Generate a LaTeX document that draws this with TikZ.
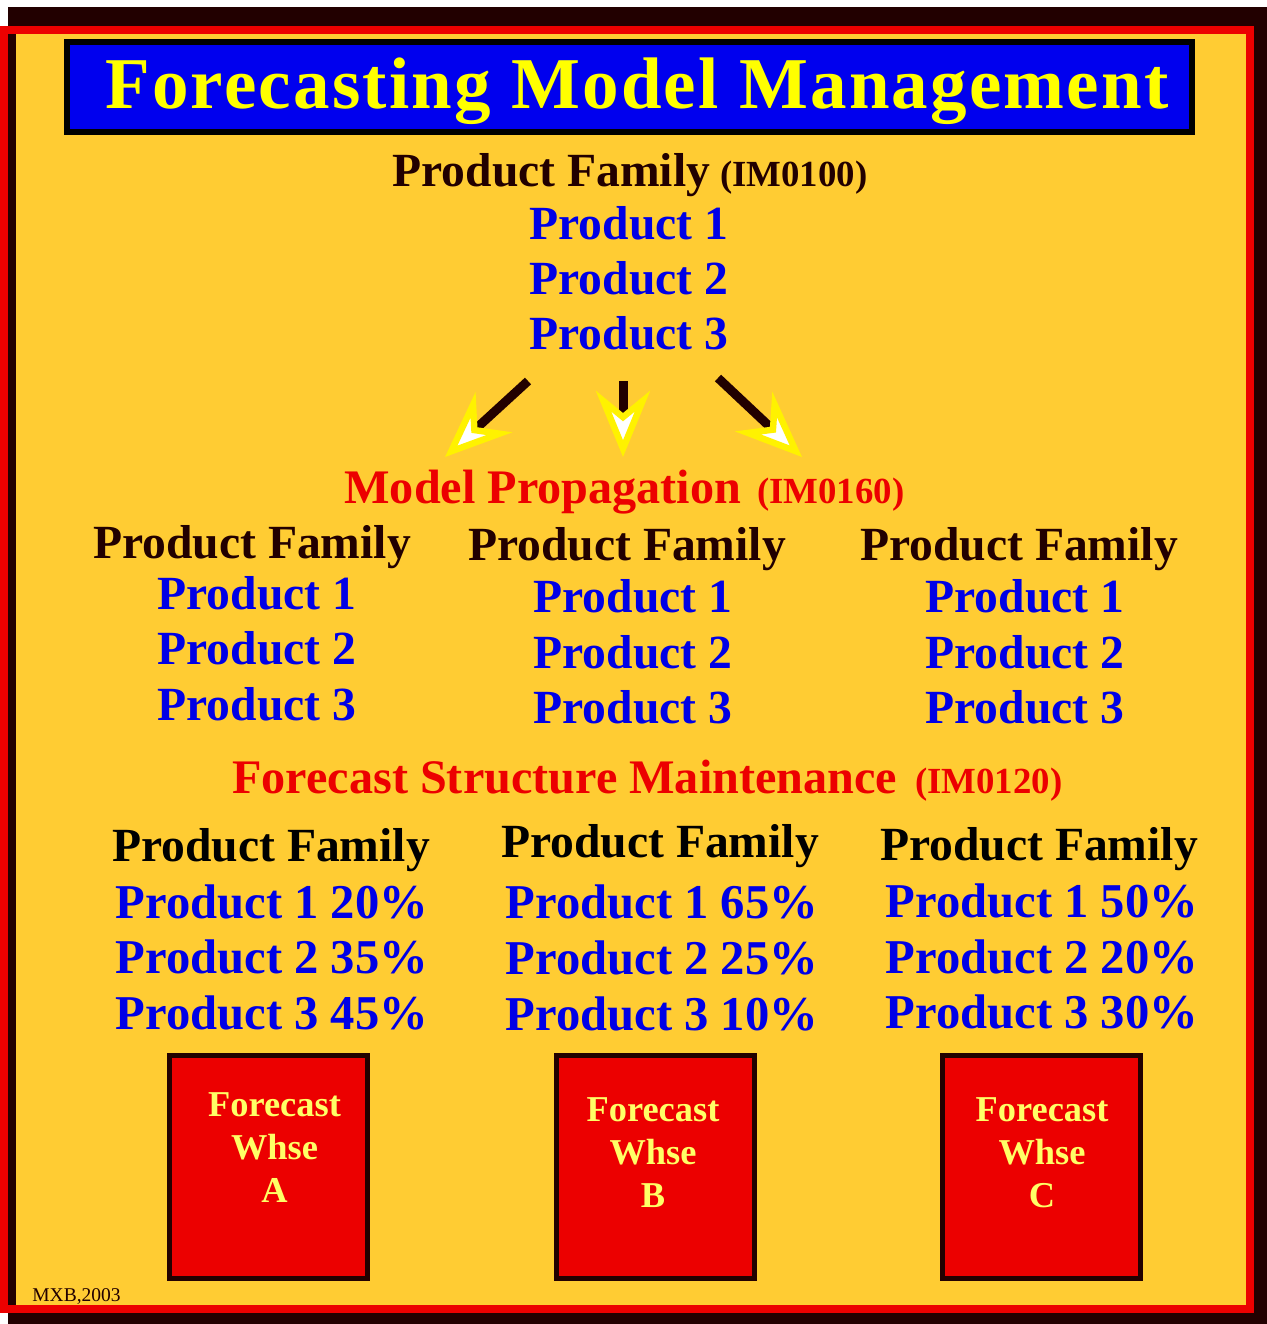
\documentclass[tikz,border=0pt]{standalone}
\usepackage{fontspec}
\setmainfont{Liberation Serif}
\usetikzlibrary{arrows.meta}
\definecolor{bg}{RGB}{255,204,51}
\definecolor{frame}{RGB}{236,0,0}
\definecolor{dark}{RGB}{34,0,0}
\definecolor{tblue}{RGB}{0,0,238}
\definecolor{pblue}{RGB}{0,0,230}
\definecolor{tyellow}{RGB}{255,255,0}
\definecolor{wyellow}{RGB}{255,255,102}
\newcommand\fsz[1]{\fontsize{#1}{#1}\selectfont}
\begin{document}
\begin{tikzpicture}[x=0.5pt,y=-0.5pt,
  txt/.style={inner sep=0pt, anchor=base, font=\bfseries\fsz{23.8pt}},
  fam/.style={txt, text=dark},
  famk/.style={txt, text=black},
  prod/.style={txt, text=pblue},
  prodp/.style={txt, text=pblue, font=\bfseries\fsz{24.3pt}},
  section/.style={txt, anchor=base west, text=frame, font=\bfseries\fsz{24.1pt}},
  whse/.style={draw=dark, line width=2.5pt, fill=frame, minimum width=99pt, minimum height=111.5pt, inner sep=0pt},
  wtxt/.style={inner sep=0pt, anchor=base, text=wyellow, font=\bfseries\fsz{18.2pt}},
  flow/.style={draw=dark, line width=4.5pt, -{Stealth[length=33pt,width=27pt,inset=11pt,fill=white,color=yellow,line width=3.2pt]}}
]
% background and frame
\fill[white] (0,0) rectangle (1267,1324);
\useasboundingbox (0,0) rectangle (1267,1324);
\fill[dark] (8,7) rectangle (1267,1324);
\fill[frame] (0,26) rectangle (1254,1313);
\fill[dark] (8,34) rectangle (16,1305);
\fill[bg] (16,34) rectangle (1246,1305);

% title
\node[draw=black, line width=3pt, fill=tblue, minimum width=562.5pt, minimum height=45pt, inner sep=0pt] (titlebox) at (629.5,87) {};
\node[inner sep=0pt, anchor=base, text=tyellow, font=\bfseries\fsz{36.5pt}\addfontfeature{LetterSpace=3}] (title) at (637,108) {Forecasting Model Management};

% top family
\node[fam, anchor=base west] (pf0) at (392,186) {Product Family\hspace{5pt}{\fsz{18.4pt}(IM0100)}};
\node[prod] (p01) at (629,239) {Product 1};
\node[prod] (p02) at (629,294) {Product 2};
\node[prod] (p03) at (629,349) {Product 3};

% arrows
\coordinate (a1s) at (528,381); \coordinate (a1t) at (445,457);
\coordinate (a2s) at (623,381); \coordinate (a2t) at (623,457);
\coordinate (a3s) at (718,378); \coordinate (a3t) at (802,457);
\draw[flow] (a1s) -- (a1t);
\draw[flow] (a2s) -- (a2t);
\draw[flow] (a3s) -- (a3t);

% model propagation
\node[section] (mp) at (344,503) {Model Propagation\hspace{8pt}{\fsz{18.4pt}(IM0160)}};
\node[fam] (pf1) at (252,558) {Product Family};
\node[fam] (pf2) at (627,560) {Product Family};
\node[fam] (pf3) at (1019,560) {Product Family};
\node[prod] (p11) at (257,609) {Product 1};
\node[prod] (p12) at (257,664.5) {Product 2};
\node[prod] (p13) at (257,720) {Product 3};
\node[prod] (p21) at (633,612) {Product 1};
\node[prod] (p22) at (633,668) {Product 2};
\node[prod] (p23) at (633,723) {Product 3};
\node[prod] (p31) at (1025,612) {Product 1};
\node[prod] (p32) at (1025,668) {Product 2};
\node[prod] (p33) at (1025,723) {Product 3};

% forecast structure maintenance
\node[section] (fsm) at (232,793) {Forecast Structure Maintenance\hspace{9pt}{\fsz{18.4pt}(IM0120)}};
\node[famk] (qf1) at (271,861) {Product Family};
\node[famk] (qf2) at (660,857) {Product Family};
\node[famk] (qf3) at (1039,860) {Product Family};
\node[prodp] (q11) at (272,918) {Product 1 20\%};
\node[prodp] (q12) at (272,973) {Product 2 35\%};
\node[prodp] (q13) at (272,1029) {Product 3 45\%};
\node[prodp] (q21) at (662,918) {Product 1 65\%};
\node[prodp] (q22) at (662,974) {Product 2 25\%};
\node[prodp] (q23) at (662,1030) {Product 3 10\%};
\node[prodp] (q31) at (1042,917) {Product 1 50\%};
\node[prodp] (q32) at (1042,973) {Product 2 20\%};
\node[prodp] (q33) at (1042,1028) {Product 3 30\%};

% warehouses
\node[whse] (wA) at (268.5,1167) {};
\node[whse] (wB) at (655,1167) {};
\node[whse] (wC) at (1041.5,1167) {};
\node[wtxt] (wA1) at (274.5,1116) {Forecast};
\node[wtxt] (wA2) at (274.5,1159) {Whse};
\node[wtxt] (wA3) at (274.5,1202) {A};
\node[wtxt] (wB1) at (653,1121) {Forecast};
\node[wtxt] (wB2) at (653,1164) {Whse};
\node[wtxt] (wB3) at (653,1207) {B};
\node[wtxt] (wC1) at (1042,1121) {Forecast};
\node[wtxt] (wC2) at (1042,1164) {Whse};
\node[wtxt] (wC3) at (1042,1207) {C};

% credit
\node[inner sep=0pt, anchor=base west, text=dark, font=\fsz{9.75pt}] (credit) at (32,1301) {MXB,2003};
\end{tikzpicture}
\end{document}
